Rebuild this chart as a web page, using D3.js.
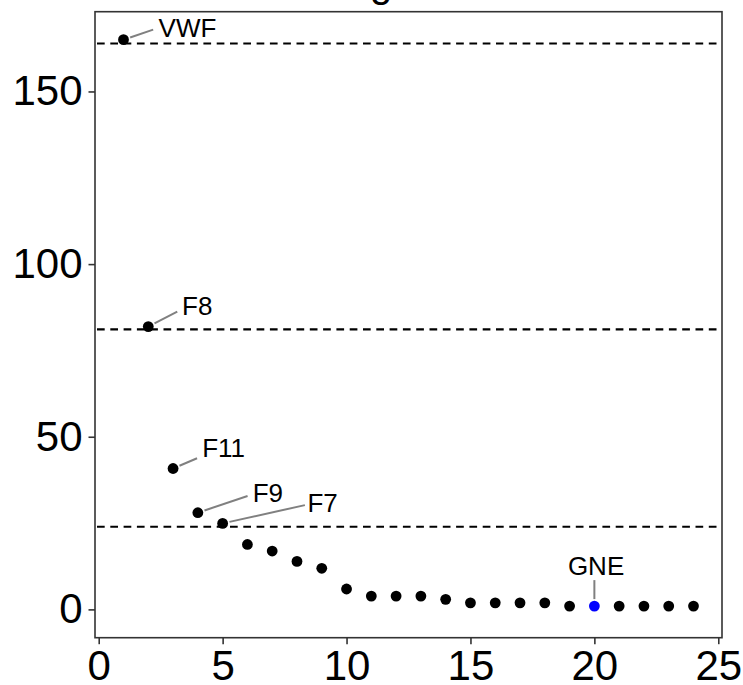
<!DOCTYPE html>
<html>
  <head>
    <title>Ranked scatter</title>
    <meta charset="utf-8">
    <script src="https://d3js.org/d3.v7.min.js"></script>
    <style>
      body {
        margin: 0;
        background-color: white;
      }
      svg {
        display: block;
        background-color: white;
        font-family: "Liberation Sans", Arial, Helvetica, sans-serif;
      }
      .dot {
        fill: black;
      }
    </style>
  </head>

  <body>
    <script>
      // Values
      const ranks = [1,2,3,4,5,6,7,8,9,10,11,12,13,14,15,16,17,18,19,20,21,22,23,24]
      const scores = [165,81.9,40.8,28,24.9,18.8,16.9,13.9,11.9,5.9,3.85,3.85,3.85,2.9,1.9,1.9,1.9,1.9,0.95,0.95,0.95,0.95,0.95,0.95]
      const cutoffs = [163.9,81.1,23.95]
      const labelRanks = [1,2,3,4,5,20]
      const labelNames = ["VWF","F8","F11","F9","F7","GNE"]
      const highlightRank = 20
      const xTicks = [0,5,10,15,20,25]
      const yTicks = [0,50,100,150]

      // Label placement (pixels, relative to the point): text centre, segment end
      const labelText = [[64,-12],[49,-21],[50.5,-21],[70,-20],[100,-21],[1.7,-40]]
      const labelSegEnd = [[29.7,-10],[29,-15],[24,-10.3],[49.7,-16.7],[82.3,-18.3],[0,-26]]

      const w = 743
      const h = 685
      const panel = {left: 95, right: 722, top: 11.7, bottom: 637.7}

      const svg = d3.select("body")
        .append("svg")
          .attr("width",w)
          .attr("height",h)

      const xScale = d3.scaleLinear()
        .domain([-0.15,25.15])
        .range([panel.left,panel.right])
      const yScale = d3.scaleLinear()
        .domain([-8.2,173.1])
        .range([panel.bottom,panel.top])

      // cut-off title, only the descender shows
      svg.append("text")
        .attr("x",381)
        .attr("y",-3.5)
        .attr("text-anchor","middle")
        .attr("font-size",40)
        .attr("fill","black")
        .text("g")

      // dashed reference lines
      svg.selectAll(".cutoff")
        .data(cutoffs)
        .enter()
        .append("line")
          .attr("class","cutoff")
          .attr("x1",panel.left + 2)
          .attr("x2",panel.right)
          .attr("y1",(d) => yScale(d))
          .attr("y2",(d) => yScale(d))
          .attr("stroke","black")
          .attr("stroke-width",2.1)
          .attr("stroke-dasharray","7.7,5.6")

      const yAxis = d3.axisLeft(yScale)
        .tickValues(yTicks)
        .tickSize(6.5)
        .tickPadding(6)
      const gy = svg.append("g")
        .attr("transform","translate(" + panel.left + ",0)")
        .attr("id","y-axis")
        .call(yAxis)

      const xAxis = d3.axisBottom(xScale)
        .tickValues(xTicks)
        .tickSize(6.5)
        .tickPadding(6)
      const gx = svg.append("g")
        .attr("transform","translate(0," + panel.bottom + ")")
        .attr("id","x-axis")
        .call(xAxis)

      for (const g of [gx,gy]) {
        g.select(".domain").remove()
        g.selectAll(".tick line")
          .attr("stroke","#333")
          .attr("stroke-width",1.6)
        g.selectAll(".tick text")
          .attr("fill","black")
          .attr("font-size",42)
          .attr("font-family","Liberation Sans, Arial, sans-serif")
      }

      svg.append("rect")
        .attr("x",panel.left)
        .attr("y",panel.top)
        .attr("width",panel.right - panel.left)
        .attr("height",panel.bottom - panel.top)
        .attr("fill","none")
        .attr("stroke","#333")
        .attr("stroke-width",1.6)

      const points = ranks.map((r,i) => ({rank: r, score: scores[i]}))

      svg.selectAll("circle")
        .data(points)
        .enter()
        .append("circle")
          .attr("class","dot")
          .attr("cx",(d) => xScale(d.rank))
          .attr("cy",(d) => yScale(d.score))
          .attr("r",5.4)
          .style("fill",(d) => d.rank === highlightRank ? "blue" : "black")

      // repelled labels with segments
      labelRanks.forEach((r,i) => {
        const p = points.find((d) => d.rank === r)
        const px = xScale(p.rank)
        const py = yScale(p.score)
        const ex = labelSegEnd[i][0]
        const ey = labelSegEnd[i][1]
        const len = Math.sqrt(ex * ex + ey * ey)
        svg.append("line")
          .attr("x1",px + ex / len * 7)
          .attr("y1",py + ey / len * 7)
          .attr("x2",px + ex)
          .attr("y2",py + ey)
          .attr("stroke","#808080")
          .attr("stroke-width",2)
        svg.append("text")
          .attr("x",px + labelText[i][0])
          .attr("y",py + labelText[i][1] + 9.3)
          .attr("text-anchor","middle")
          .attr("font-size",26)
          .attr("fill","black")
          .text(labelNames[i])
      })
    </script>
  </body>
</html>
